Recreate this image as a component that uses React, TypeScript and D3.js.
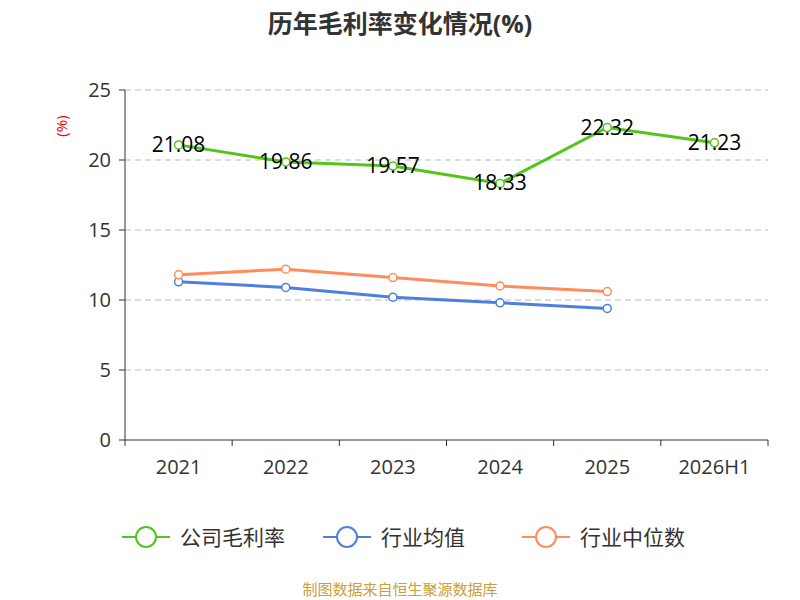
import * as d3 from 'd3';

const categories = ['2021', '2022', '2023', '2024', '2025', '2026H1'];
const companyValues = [21.08, 19.86, 19.57, 18.33, 22.32, 21.23];
const industryAvg = [11.3, 10.9, 10.2, 9.8, 9.4];
const industryMedian = [11.8, 12.2, 11.6, 11.0, 10.6];
const yTicks = [0, 5, 10, 15, 20, 25];

const series = [
  { name: '公司毛利率', values: companyValues, color: '#52c41a' },
  { name: '行业均值', values: industryAvg, color: '#4e7fe0' },
  { name: '行业中位数', values: industryMedian, color: '#ff8c5a' },
];

export default function App() {
  const left = 125, right = 768, top = 90, bottom = 440;
  const x = d3.scaleBand().domain(categories).range([left, right]);
  const y = d3.scaleLinear().domain([0, 25]).range([bottom, top]);
  const cx = (i: number) => (x(categories[i]) as number) + x.bandwidth() / 2;
  const line = d3.line<number>().x((_, i) => cx(i)).y(d => y(d));
  const font = '"Open Sans", "Noto Sans CJK SC", sans-serif';

  return (
    <svg width={800} height={600} style={{ position: 'absolute', left: 0, top: 0, fontFamily: font }}>
      <rect width={800} height={600} fill="#fff" />
      <text x={400} y={33} textAnchor="middle" fontSize={25} fontWeight="bold" fill="#333">历年毛利率变化情况(%)</text>
      <text x={62} y={126} fontSize={15} fill="#e00" textAnchor="middle" transform="rotate(-90 62 126)" dy={5}>(%)</text>
      {yTicks.map(t => (
        <g key={t}>
          {t > 0 && <line x1={left} x2={right} y1={y(t)} y2={y(t)} stroke="#bbb" strokeDasharray="6,4" />}
          <line x1={left - 6} x2={left} y1={y(t)} y2={y(t)} stroke="#333" />
          <text x={left - 14} y={y(t)} dy={7} textAnchor="end" fontSize={20} fill="#333">{t}</text>
        </g>
      ))}
      <line x1={left} x2={left} y1={top} y2={bottom} stroke="#333" />
      <line x1={left} x2={right} y1={bottom} y2={bottom} stroke="#333" />
      {categories.map((c, i) => (
        <g key={c}>
          <line x1={x(c) as number} x2={x(c) as number} y1={bottom} y2={bottom + 6} stroke="#333" />
          <text x={cx(i)} y={bottom + 34} textAnchor="middle" fontSize={20} fill="#333">{c}</text>
        </g>
      ))}
      <line x1={right} x2={right} y1={bottom} y2={bottom + 6} stroke="#333" />
      {series.map(s => (
        <g key={s.name}>
          <path d={line(s.values) as string} fill="none" stroke={s.color} strokeWidth={3} />
          {s.values.map((v, i) => (
            <circle key={i} cx={cx(i)} cy={y(v)} r={4} fill="#fff" stroke={s.color} strokeWidth={1.5} />
          ))}
        </g>
      ))}
      {companyValues.map((v, i) => (
        <text key={i} x={cx(i)} y={y(v)} dy={7} textAnchor="middle" fontSize={21} fill="#000">{v.toFixed(2)}</text>
      ))}
      {series.map((s, i) => {
        const lx = [122, 323, 522][i];
        return (
          <g key={s.name}>
            <line x1={lx} x2={lx + 48} y1={537} y2={537} stroke={s.color} strokeWidth={2} />
            <circle cx={lx + 24} cy={537} r={10} fill="#fff" stroke={s.color} strokeWidth={2} />
            <text x={lx + 58} y={537} dy={8} fontSize={21} fill="#333">{s.name}</text>
          </g>
        );
      })}
      <text x={400} y={595} textAnchor="middle" fontSize={15} fill="#c8a040">制图数据来自恒生聚源数据库</text>
    </svg>
  );
}
